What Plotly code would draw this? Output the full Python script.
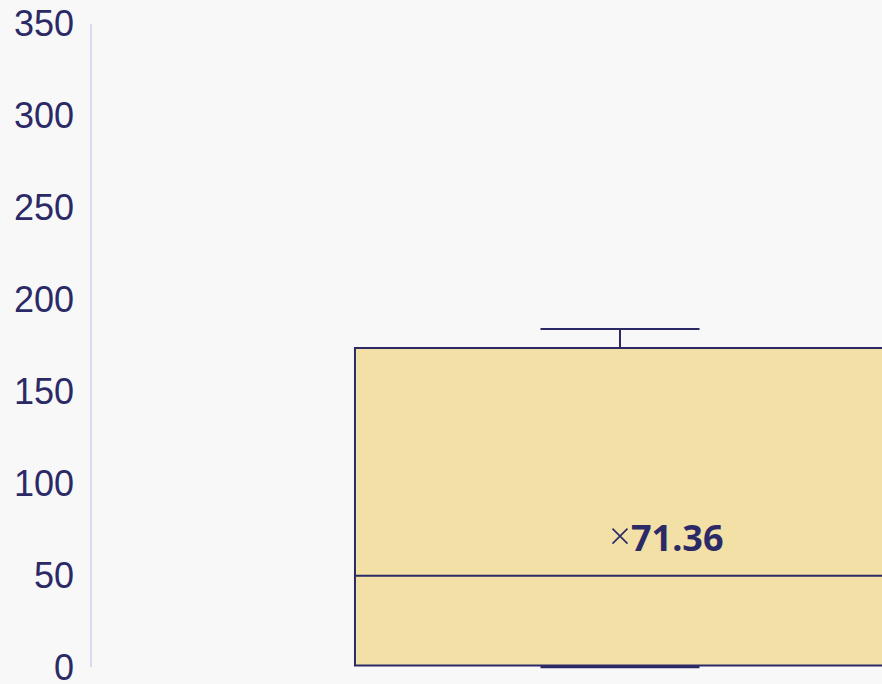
import plotly.graph_objects as go

# Box statistics
categories = [0]
q1 = [1.0]
median = [49.8]
q3 = [173.6]
lowerfence = [0.0]
upperfence = [184.0]
mean = [71.36]
mean_label = ["71.36"]
y_ticks = [0, 50, 100, 150, 200, 250, 300, 350]

NAVY = "#2b2a66"
FILL = "#f3e0a7"
BG = "#f8f8f8"

fig = go.Figure()
fig.add_trace(go.Box(
    x=categories, q1=q1, median=median, q3=q3,
    lowerfence=lowerfence, upperfence=upperfence,
    width=1.0, whiskerwidth=0.3,
    fillcolor=FILL, line=dict(color=NAVY, width=2),
    boxpoints=False, showlegend=False, hoverinfo="skip",
))
fig.add_trace(go.Scatter(
    x=categories, y=mean, mode="markers",
    marker=dict(symbol="x-thin", size=15, line=dict(color=NAVY, width=1.6)),
    showlegend=False, hoverinfo="skip",
))
fig.add_annotation(
    x=categories[0], y=mean[0], xref="x", yref="y",
    text=f"<b>{mean_label[0]}</b>", showarrow=False,
    xanchor="left", yanchor="middle", xshift=9, yshift=-1,
    font=dict(family="Noto Sans", size=36, color=NAVY),
)
fig.add_shape(type="line", xref="paper", yref="y", x0=0, x1=0, y0=0, y1=350,
              line=dict(color="#dcdaf0", width=2), layer="below")

fig.update_layout(
    width=882, height=684,
    margin=dict(l=91, r=0, t=20, b=13, autoexpand=False),
    paper_bgcolor=BG, plot_bgcolor=BG,
    xaxis=dict(visible=False, range=[-0.998, 0.4943], automargin=False),
    yaxis=dict(range=[-2, 352], tickvals=y_ticks, showgrid=False, zeroline=False,
               showline=False, ticks="", ticklabelstandoff=16, automargin=False,
               ticklabeloverflow="allow",
               tickfont=dict(family="Liberation Sans", size=36, color=NAVY)),
)
fig.write_html(
    "out.html",
    config={"displayModeBar": False},
    post_script="document.body.style.margin='0';document.body.style.background='#f8f8f8';document.body.style.overflow='hidden';",
)
